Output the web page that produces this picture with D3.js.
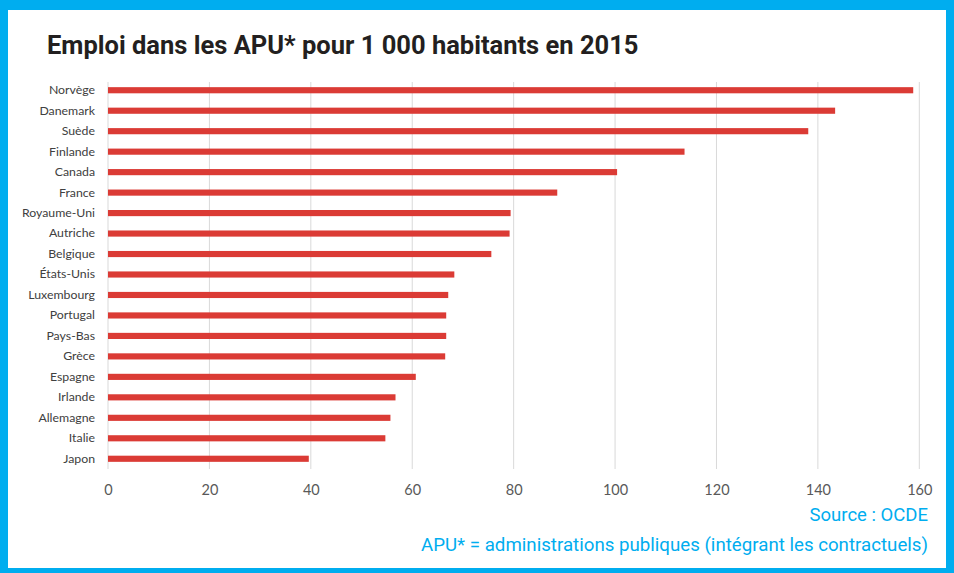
<!DOCTYPE html>
<html>
<head>
<meta charset="utf-8">
<script src="https://cdn.jsdelivr.net/npm/d3@7"></script>
<style>
  body { margin: 0; background: #fff; }
  svg { display: block; }
</style>
</head>
<body>
<script>
// data
const countries = ["Norvège", "Danemark", "Suède", "Finlande", "Canada", "France",
  "Royaume-Uni", "Autriche", "Belgique", "États-Unis", "Luxembourg", "Portugal",
  "Pays-Bas", "Grèce", "Espagne", "Irlande", "Allemagne", "Italie", "Japon"];
const values = [158.8, 143.4, 138.1, 113.7, 100.4, 88.6, 79.4, 79.2, 75.6, 68.3,
  67.1, 66.7, 66.7, 66.5, 60.7, 56.7, 55.7, 54.7, 39.6];
const ticks = [0, 20, 40, 60, 80, 100, 120, 140, 160];

const width = 954, height = 573;
const blue = "#00adef";

const svg = d3.select("body").append("svg")
    .attr("width", width)
    .attr("height", height);

// blue frame
svg.append("rect").attr("width", width).attr("height", height).attr("fill", blue);
svg.append("rect")
    .attr("x", 8).attr("y", 10)
    .attr("width", 938).attr("height", 558)
    .attr("fill", "#fff");

svg.append("text")
    .attr("x", 47).attr("y", 54)
    .style("font-family", "Roboto")
    .style("font-weight", 700)
    .style("font-size", "25.5px")
    .attr("fill", "#231f20")
    .text("Emploi dans les APU* pour 1 000 habitants en 2015");

const x = d3.scaleLinear().domain([0, 160]).range([108, 919.3]);
const y = d3.scaleBand().domain(countries).range([80, 469]).paddingInner(0.7).paddingOuter(0.35);

// gridlines
svg.append("g")
    .selectAll("line")
    .data(ticks)
    .join("line")
    .attr("x1", d => x(d)).attr("x2", d => x(d))
    .attr("y1", 82).attr("y2", 469)
    .attr("stroke", "#d9d9d9")
    .attr("stroke-width", 1);

// bars
svg.append("g")
    .selectAll("rect")
    .data(countries)
    .join("rect")
    .attr("x", x(0))
    .attr("y", d => y(d))
    .attr("width", (d, i) => x(values[i]) - x(0))
    .attr("height", y.bandwidth())
    .attr("fill", "#db3b35");

// country labels
const yAxis = svg.append("g")
    .attr("transform", `translate(${x(0)},0)`)
    .call(d3.axisLeft(y).tickSize(0).tickPadding(13));
yAxis.select(".domain").remove();
yAxis.selectAll("text")
    .style("font-family", "Lato")
    .style("font-size", "12.3px")
    .attr("fill", "#404040");

// value axis
const xAxis = svg.append("g")
    .attr("transform", "translate(0,469)")
    .call(d3.axisBottom(x).tickValues(ticks).tickSize(0).tickPadding(16));
xAxis.select(".domain").remove();
xAxis.selectAll("text")
    .style("font-family", "Lato")
    .style("font-size", "14.5px")
    .attr("fill", "#595959");

// source notes
svg.append("text")
    .attr("x", 928).attr("y", 521)
    .attr("text-anchor", "end")
    .style("font-family", "Roboto")
    .style("font-size", "18.5px")
    .attr("fill", blue)
    .text("Source : OCDE");

svg.append("text")
    .attr("x", 928).attr("y", 551)
    .attr("text-anchor", "end")
    .style("font-family", "Roboto")
    .style("font-size", "18.7px")
    .attr("fill", blue)
    .text("APU* = administrations publiques (intégrant les contractuels)");
</script>
</body>
</html>
